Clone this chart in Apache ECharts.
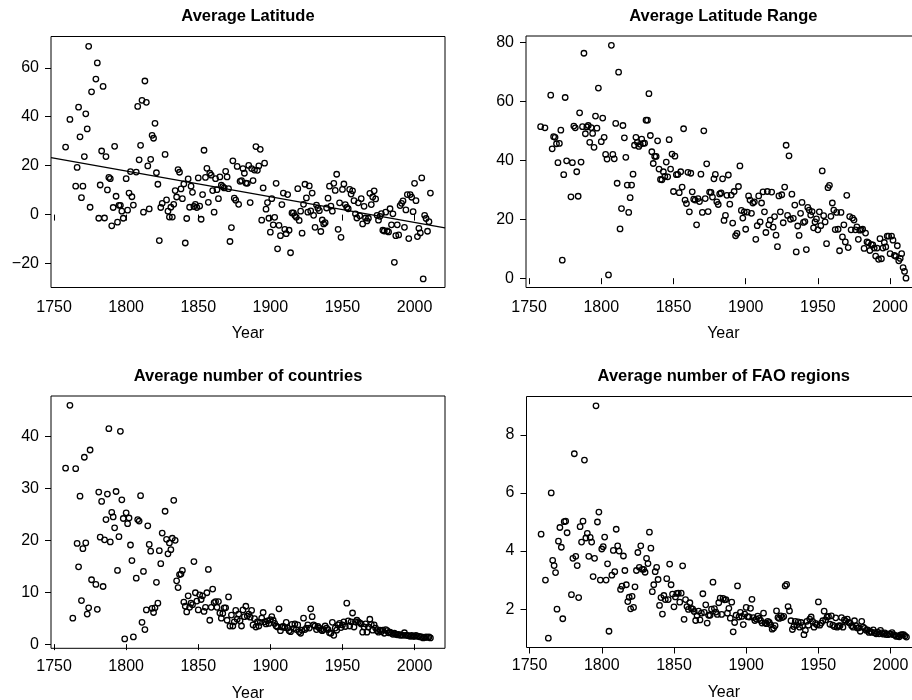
<!DOCTYPE html>
<html>
<head>
<meta charset="utf-8">
<script src="https://cdn.jsdelivr.net/npm/echarts@6/dist/echarts.min.js"></script>
<style>html,body{margin:0;padding:0;background:#fff}#c{width:912px;height:700px}</style>
</head>
<body>
<div id="c"></div>
<script>
const titles = ['Average Latitude', 'Average Latitude Range', 'Average number of countries', 'Average number of FAO regions'];
const xTicks = [1750, 1800, 1850, 1900, 1950, 2000];
const yTicksLat = [-20, 0, 20, 40, 60];
const yTicksRange = [0, 20, 40, 60, 80];
const yTicksCountries = [0, 10, 20, 30, 40];
const yTicksFao = [2, 4, 6, 8];
// linear fit shown on the latitude panel: value = trendAt1750 + trendSlope * (year - 1750)
const trendAt1750 = 23.08;
const trendSlope = -0.105;

const latitude = [[1758,27.6],[1761,38.9],[1765,11.6],[1766,19.3],[1767,43.9],[1768,31.8],[1769,6.9],[1770,11.6],[1771,23.7],[1772,41.2],[1773,35.0],[1774,68.8],[1775,3.0],[1776,50.2],[1779,55.4],[1780,62.0],[1781,-1.5],[1782,12.1],[1783,26.0],[1784,52.4],[1785,-1.4],[1786,23.7],[1787,10.1],[1788,15.2],[1789,14.7],[1790,-4.6],[1791,2.9],[1792,27.9],[1793,7.5],[1794,-3.1],[1795,3.8],[1796,3.8],[1797,1.4],[1798,-1.5],[1800,14.7],[1801,1.8],[1802,8.8],[1803,17.6],[1804,7.3],[1805,3.9],[1807,17.4],[1808,44.2],[1809,22.4],[1810,28.3],[1811,46.7],[1812,1.0],[1813,54.6],[1814,45.9],[1815,19.9],[1816,2.3],[1817,22.6],[1818,32.4],[1819,31.2],[1820,37.3],[1821,17.1],[1822,12.4],[1823,-10.6],[1824,2.9],[1825,4.6],[1827,24.6],[1828,6.0],[1829,1.4],[1830,-1.0],[1831,3.0],[1832,-1.0],[1833,4.2],[1834,9.8],[1835,7.2],[1836,18.4],[1837,17.3],[1838,10.5],[1839,6.5],[1840,12.5],[1841,-11.6],[1842,-1.6],[1843,14.6],[1844,3.0],[1845,11.6],[1846,9.1],[1847,3.3],[1848,4.2],[1849,2.9],[1850,15.0],[1851,3.5],[1852,-1.9],[1853,8.2],[1854,26.3],[1855,15.2],[1856,18.9],[1857,5.0],[1858,16.9],[1859,16.1],[1860,9.8],[1861,1.0],[1862,14.7],[1863,10.2],[1864,6.5],[1865,15.4],[1866,12.0],[1867,11.4],[1868,10.9],[1869,17.7],[1870,15.4],[1871,10.6],[1872,-11.0],[1873,-5.3],[1874,22.0],[1875,6.7],[1876,5.9],[1877,19.7],[1878,4.2],[1879,13.6],[1880,13.9],[1881,18.8],[1882,16.9],[1883,12.9],[1884,12.8],[1885,20.1],[1886,4.9],[1887,18.8],[1888,13.9],[1889,18.2],[1890,27.8],[1891,18.1],[1892,19.9],[1893,26.7],[1894,-2.3],[1895,10.9],[1896,21.0],[1897,2.2],[1898,4.9],[1899,-1.5],[1900,-7.2],[1901,6.5],[1902,-4.2],[1903,-1.1],[1904,12.8],[1905,-14.0],[1906,-4.4],[1907,-8.6],[1908,4.1],[1909,8.8],[1910,-6.0],[1911,-7.8],[1912,8.2],[1913,-6.4],[1914,-15.6],[1915,0.7],[1916,0.7],[1917,-0.4],[1918,-1.1],[1919,10.6],[1920,-2.4],[1921,1.4],[1922,-7.6],[1923,4.2],[1924,12.4],[1925,6.8],[1926,1.0],[1927,11.7],[1928,1.5],[1929,8.8],[1930,-0.3],[1931,-5.2],[1932,3.9],[1933,2.6],[1934,1.6],[1935,-6.9],[1936,-2.2],[1937,-3.8],[1938,-3.3],[1939,2.7],[1940,6.7],[1941,11.6],[1942,3.5],[1943,1.4],[1944,12.8],[1945,9.9],[1946,16.5],[1947,-6.0],[1948,4.8],[1949,-9.3],[1950,10.3],[1951,12.5],[1952,4.1],[1953,2.9],[1954,2.4],[1955,10.3],[1956,8.4],[1957,9.7],[1958,5.7],[1959,0.3],[1960,-1.4],[1961,4.8],[1962,-0.5],[1963,6.5],[1964,-3.8],[1965,3.4],[1966,-1.4],[1967,-2.6],[1968,-1.5],[1969,8.7],[1970,4.1],[1971,7.2],[1972,9.7],[1973,6.4],[1974,-0.3],[1975,-2.3],[1976,-0.7],[1977,0.4],[1978,-6.4],[1979,-6.7],[1980,1.0],[1981,-6.7],[1982,-7.1],[1983,2.4],[1984,-4.2],[1985,0.3],[1986,-19.5],[1987,-8.6],[1988,-4.2],[1989,-8.3],[1990,3.7],[1991,4.6],[1992,5.6],[1993,-5.2],[1994,1.9],[1995,8.2],[1996,-9.8],[1997,8.2],[1998,7.1],[1999,1.2],[2000,12.8],[2001,5.7],[2002,-9.0],[2003,-5.6],[2004,-7.5],[2005,15.0],[2006,-26.3],[2007,-0.3],[2008,-1.6],[2009,-6.8],[2010,-2.9],[2011,8.8]];

const latitudeRange = [[1758,51.4],[1761,51.0],[1765,62.1],[1766,43.9],[1767,48.0],[1768,47.8],[1769,45.6],[1770,39.2],[1771,45.7],[1772,50.2],[1773,6.1],[1774,35.1],[1775,61.3],[1776,39.8],[1779,27.6],[1780,39.2],[1781,51.6],[1782,51.0],[1783,36.1],[1784,27.8],[1785,56.1],[1786,39.4],[1787,51.4],[1788,76.3],[1789,49.0],[1790,51.3],[1791,51.8],[1792,46.1],[1793,51.1],[1794,49.1],[1795,44.4],[1796,55.0],[1797,50.9],[1798,64.5],[1800,46.3],[1801,54.3],[1802,47.8],[1803,42.0],[1804,40.4],[1805,1.1],[1807,79.0],[1808,42.0],[1809,40.5],[1810,52.5],[1811,32.2],[1812,69.9],[1813,16.7],[1814,23.6],[1815,51.8],[1816,47.6],[1817,41.0],[1818,31.6],[1819,22.3],[1820,27.3],[1821,31.6],[1822,35.3],[1823,45.1],[1824,47.8],[1825,46.1],[1826,44.7],[1827,45.4],[1828,47.2],[1829,45.7],[1830,45.8],[1831,53.6],[1832,53.6],[1833,62.6],[1834,48.4],[1835,42.9],[1836,38.9],[1837,41.3],[1838,41.3],[1839,46.6],[1840,37.0],[1841,33.5],[1842,33.4],[1843,36.1],[1844,34.5],[1845,39.4],[1846,34.4],[1847,47.0],[1848,37.0],[1849,42.1],[1850,29.4],[1851,41.4],[1852,35.1],[1853,35.2],[1854,29.0],[1855,36.1],[1856,30.9],[1857,50.7],[1858,26.5],[1859,25.3],[1860,35.9],[1861,22.5],[1862,35.6],[1863,29.3],[1864,26.8],[1865,26.5],[1866,18.1],[1867,27.0],[1868,26.0],[1869,35.3],[1870,22.3],[1871,50.0],[1872,27.0],[1873,38.8],[1874,22.6],[1875,29.2],[1876,29.1],[1877,27.5],[1878,33.7],[1879,35.2],[1880,25.9],[1881,25.0],[1882,28.6],[1883,28.9],[1884,33.7],[1885,19.6],[1886,21.3],[1887,28.1],[1888,35.0],[1889,25.1],[1890,28.2],[1891,18.7],[1892,29.4],[1893,14.4],[1894,15.2],[1895,31.1],[1896,38.1],[1897,23.0],[1898,20.4],[1899,22.5],[1900,16.6],[1901,22.4],[1902,27.9],[1903,26.5],[1904,22.0],[1905,25.5],[1906,25.9],[1907,13.2],[1908,17.8],[1909,27.9],[1910,19.1],[1911,25.5],[1912,29.3],[1913,22.5],[1914,15.5],[1915,29.4],[1916,18.1],[1917,19.7],[1918,29.2],[1919,17.3],[1920,20.9],[1921,14.6],[1922,10.7],[1923,27.9],[1924,22.5],[1925,28.3],[1926,18.8],[1927,30.9],[1928,45.1],[1929,21.3],[1930,41.5],[1931,20.0],[1932,28.5],[1933,20.3],[1934,24.8],[1935,8.9],[1936,17.7],[1937,14.5],[1938,22.0],[1939,25.7],[1940,18.9],[1941,19.2],[1942,9.7],[1943,24.0],[1944,23.1],[1945,21.4],[1946,22.6],[1947,17.1],[1948,19.1],[1949,20.1],[1950,16.4],[1951,22.5],[1952,17.8],[1953,36.4],[1954,21.2],[1955,19.1],[1956,11.7],[1957,30.7],[1958,31.5],[1959,21.0],[1960,25.5],[1961,23.1],[1962,16.5],[1963,22.3],[1964,16.6],[1965,9.3],[1966,22.3],[1967,14.0],[1968,18.1],[1969,12.3],[1970,28.1],[1971,10.4],[1972,20.9],[1973,16.4],[1974,20.4],[1975,19.7],[1976,16.4],[1977,17.4],[1978,13.2],[1979,16.3],[1980,16.4],[1981,16.6],[1982,10.1],[1983,15.3],[1984,12.3],[1985,12.0],[1986,9.4],[1987,11.4],[1988,11.3],[1989,10.2],[1990,7.5],[1991,10.2],[1992,6.4],[1993,13.4],[1994,6.6],[1995,10.2],[1996,12.1],[1997,10.6],[1998,14.3],[1999,14.3],[2000,8.3],[2001,14.3],[2002,12.9],[2003,7.7],[2004,7.4],[2005,11.0],[2006,5.9],[2007,6.7],[2008,8.3],[2009,3.6],[2010,2.3],[2011,0.0]];

const countries = [[1758,33.9],[1761,46.0],[1763,5.0],[1765,33.8],[1766,19.4],[1767,14.9],[1768,28.5],[1769,8.4],[1770,18.4],[1771,36.0],[1772,19.5],[1773,5.8],[1774,7.0],[1775,37.4],[1776,12.4],[1779,11.5],[1780,6.7],[1781,29.3],[1782,20.6],[1783,27.5],[1784,11.1],[1785,20.1],[1786,24.0],[1787,28.9],[1788,41.5],[1789,19.7],[1790,25.4],[1791,24.5],[1792,22.4],[1793,29.4],[1794,14.2],[1795,20.7],[1796,41.0],[1797,27.8],[1798,24.2],[1799,1.0],[1800,25.3],[1801,23.2],[1802,24.3],[1803,19.1],[1804,16.1],[1805,1.4],[1807,12.7],[1808,24.0],[1809,23.7],[1810,28.6],[1811,4.2],[1812,14.0],[1813,2.8],[1814,6.6],[1815,22.8],[1816,19.2],[1817,17.9],[1818,6.9],[1819,6.1],[1820,7.0],[1821,11.9],[1822,7.9],[1823,18.0],[1824,15.5],[1825,21.4],[1827,25.6],[1828,20.2],[1829,17.4],[1830,19.5],[1831,18.2],[1832,20.4],[1833,27.7],[1834,20.0],[1835,12.2],[1836,10.9],[1837,13.4],[1838,13.5],[1839,14.2],[1840,8.1],[1841,7.3],[1842,6.2],[1843,9.3],[1844,7.1],[1845,7.9],[1846,7.6],[1847,15.9],[1848,9.9],[1849,8.3],[1850,6.6],[1851,9.5],[1852,8.6],[1853,9.3],[1854,6.3],[1855,7.1],[1856,9.9],[1857,14.4],[1858,4.6],[1859,7.1],[1860,10.6],[1861,8.0],[1862,8.2],[1863,7.1],[1864,8.2],[1865,6.0],[1866,5.0],[1867,5.9],[1868,7.0],[1869,7.0],[1870,4.6],[1871,9.1],[1872,3.5],[1873,5.6],[1874,3.5],[1875,4.3],[1876,6.5],[1877,4.8],[1878,5.8],[1879,4.5],[1880,3.5],[1881,6.6],[1882,5.3],[1883,7.3],[1884,5.4],[1885,5.8],[1886,5.2],[1887,6.5],[1888,3.7],[1889,4.9],[1890,3.3],[1891,4.3],[1892,3.5],[1893,4.2],[1894,5.0],[1895,6.1],[1896,4.3],[1897,3.9],[1898,4.5],[1899,4.0],[1900,4.7],[1901,5.3],[1902,4.6],[1903,4.0],[1904,3.5],[1905,3.3],[1906,6.8],[1907,2.6],[1908,3.3],[1909,3.4],[1910,3.2],[1911,4.2],[1912,3.1],[1913,2.6],[1914,2.4],[1915,3.8],[1916,3.0],[1917,3.9],[1918,2.8],[1919,3.7],[1920,2.4],[1921,2.1],[1922,2.7],[1923,5.0],[1924,2.8],[1925,3.1],[1926,3.7],[1927,3.1],[1928,6.8],[1929,5.3],[1930,3.7],[1931,3.5],[1932,2.8],[1933,3.4],[1934,3.1],[1935,2.8],[1936,2.6],[1937,2.8],[1938,3.5],[1939,3.1],[1940,2.8],[1941,2.2],[1942,2.1],[1943,4.2],[1944,1.7],[1945,3.1],[1946,2.7],[1947,3.7],[1948,4.0],[1949,3.2],[1950,3.7],[1951,4.3],[1952,3.4],[1953,7.9],[1954,4.5],[1955,3.5],[1956,4.3],[1957,6.0],[1958,3.3],[1959,4.3],[1960,4.6],[1961,4.3],[1962,4.1],[1963,3.9],[1964,2.3],[1965,3.3],[1966,3.9],[1967,2.3],[1968,3.3],[1969,4.8],[1970,3.8],[1971,2.7],[1972,3.7],[1973,3.1],[1974,2.6],[1975,2.3],[1976,2.7],[1977,2.4],[1978,2.7],[1979,2.1],[1980,2.8],[1981,2.6],[1982,2.2],[1983,2.3],[1984,2.1],[1985,1.9],[1986,2.1],[1987,1.9],[1988,1.8],[1989,1.9],[1990,1.7],[1991,1.8],[1992,1.7],[1993,2.2],[1994,1.7],[1995,1.7],[1996,1.6],[1997,1.5],[1998,1.7],[1999,1.5],[2000,1.5],[2001,1.7],[2002,1.5],[2003,1.5],[2004,1.4],[2005,1.4],[2006,1.2],[2007,1.3],[2008,1.4],[2009,1.3],[2010,1.4],[2011,1.2]];

const faoRegions = [[1758,4.58],[1761,3.0],[1763,1.0],[1765,6.0],[1766,3.68],[1767,3.5],[1768,3.26],[1769,2.0],[1770,4.34],[1771,4.81],[1772,4.13],[1773,1.67],[1774,5.01],[1775,5.03],[1776,4.63],[1779,2.5],[1780,3.75],[1781,7.35],[1782,3.82],[1783,3.5],[1784,2.4],[1785,4.84],[1786,4.31],[1787,5.03],[1788,7.13],[1789,4.45],[1790,4.61],[1791,3.82],[1792,4.47],[1793,4.31],[1794,3.12],[1795,3.75],[1796,9.0],[1797,5.0],[1798,5.34],[1799,3.0],[1800,4.07],[1801,4.15],[1802,4.48],[1803,3.0],[1804,3.56],[1805,1.24],[1807,3.17],[1808,4.02],[1809,3.29],[1810,4.75],[1811,4.18],[1812,4.0],[1813,2.68],[1814,2.79],[1815,3.83],[1816,3.33],[1817,2.84],[1818,2.26],[1819,2.41],[1820,2.01],[1821,2.44],[1822,2.06],[1823,2.77],[1824,3.33],[1825,3.95],[1826,3.44],[1827,4.18],[1828,3.37],[1829,3.37],[1830,3.27],[1831,3.75],[1832,3.57],[1833,4.65],[1834,4.1],[1835,2.6],[1836,2.84],[1837,3.29],[1838,3.44],[1839,3.02],[1840,2.13],[1841,2.4],[1842,1.83],[1843,2.47],[1844,2.33],[1845,3.05],[1846,2.33],[1847,3.55],[1848,2.84],[1849,2.52],[1850,2.08],[1851,2.42],[1852,2.54],[1853,2.55],[1854,2.24],[1855,2.55],[1856,3.49],[1857,1.65],[1858,2.33],[1859,2.09],[1860,1.99],[1861,2.22],[1862,2.03],[1863,2.0],[1864,1.92],[1865,1.61],[1866,1.78],[1867,1.93],[1868,1.63],[1869,1.86],[1870,2.53],[1871,1.89],[1872,2.15],[1873,1.52],[1874,1.79],[1875,1.79],[1876,2.0],[1877,2.93],[1878,2.02],[1879,1.9],[1880,1.82],[1881,2.22],[1882,2.38],[1883,1.82],[1884,2.37],[1885,2.32],[1886,2.33],[1887,1.86],[1888,2.03],[1889,1.69],[1890,2.24],[1891,1.22],[1892,1.54],[1893,1.79],[1894,2.8],[1895,1.73],[1896,1.89],[1897,1.75],[1898,1.47],[1899,1.83],[1900,2.06],[1901,1.74],[1902,1.73],[1903,2.03],[1904,2.34],[1905,1.71],[1906,1.61],[1907,1.66],[1908,1.76],[1909,1.68],[1910,1.61],[1911,1.52],[1912,1.86],[1913,1.53],[1914,1.5],[1915,1.58],[1916,1.54],[1917,1.46],[1918,1.31],[1919,1.35],[1920,1.43],[1921,1.94],[1922,1.71],[1923,1.68],[1924,1.77],[1925,1.71],[1926,1.75],[1927,2.8],[1928,2.85],[1929,2.09],[1930,1.94],[1931,1.6],[1932,1.3],[1933,1.4],[1934,1.58],[1935,1.46],[1936,1.56],[1937,1.38],[1938,1.54],[1939,1.43],[1940,1.12],[1941,1.27],[1942,1.58],[1943,1.45],[1944,1.66],[1945,1.73],[1946,1.58],[1947,1.38],[1948,1.51],[1949,1.46],[1950,2.25],[1951,1.45],[1952,1.52],[1953,1.6],[1954,1.93],[1955,1.63],[1956,1.73],[1957,1.75],[1958,1.48],[1959,1.77],[1960,1.45],[1961,1.4],[1962,1.7],[1963,1.38],[1964,1.42],[1965,1.43],[1966,1.71],[1967,1.38],[1968,1.63],[1969,1.58],[1970,1.66],[1971,1.54],[1972,1.52],[1973,1.43],[1974,1.38],[1975,1.6],[1976,1.43],[1977,1.35],[1978,1.36],[1979,1.24],[1980,1.58],[1981,1.38],[1982,1.34],[1983,1.27],[1984,1.29],[1985,1.2],[1986,1.23],[1987,1.2],[1988,1.29],[1989,1.19],[1990,1.15],[1991,1.21],[1992,1.15],[1993,1.27],[1994,1.18],[1995,1.14],[1996,1.18],[1997,1.13],[1998,1.12],[1999,1.15],[2000,1.14],[2001,1.19],[2002,1.12],[2003,1.1],[2004,1.06],[2005,1.08],[2006,1.05],[2007,1.11],[2008,1.12],[2009,1.12],[2010,1.08],[2011,1.04]];

const FONT = "'Liberation Sans', Arial, Helvetica, sans-serif";
const X_MIN = 1747.88, X_MAX = 2021.12;

const panels = [
  { data: latitude, yTicks: yTicksLat, yMin: -29.8, yMax: 72.8,
    grid: { left: 51, top: 36.5, width: 394, height: 251 }, labelMargin: 12, nameGap: 38, titleY: 16 },
  { data: latitudeRange, yTicks: yTicksRange, yMin: -3.16, yMax: 82.16,
    grid: { left: 526, top: 36, width: 394.6, height: 251.5 }, labelMargin: 12, nameGap: 38, titleY: 16 },
  { data: countries, yTicks: yTicksCountries, yMin: -0.8, yMax: 47.8,
    grid: { left: 51, top: 396, width: 394, height: 252.3 }, labelMargin: 10, nameGap: 37, titleY: 376 },
  { data: faoRegions, yTicks: yTicksFao, yMin: 0.68, yMax: 9.32,
    grid: { left: 526.5, top: 396.5, width: 394.6, height: 251 }, labelMargin: 10, nameGap: 37, titleY: 376 }
];

const fmtY = v => (v < 0 ? '\u2212' + Math.abs(v) : String(v));
const fmtX = v => String(v);

const option = { animation: false, backgroundColor: '#fff', grid: [], xAxis: [], yAxis: [], series: [], graphic: [] };

panels.forEach((p, i) => {
  option.grid.push(Object.assign({ show: true, borderColor: '#000', borderWidth: 1, backgroundColor: 'transparent', containLabel: false, outerBoundsMode: 'none' }, p.grid));
  option.xAxis.push({
    gridIndex: i, type: 'value', min: X_MIN, max: X_MAX,
    axisLine: { show: false }, splitLine: { show: false },
    axisTick: { show: true, inside: false, length: 6, customValues: xTicks, lineStyle: { color: '#000', width: 1 } },
    axisLabel: { customValues: xTicks, margin: p.labelMargin, fontSize: 16, color: '#000', fontFamily: FONT, formatter: fmtX },
    name: 'Year', nameLocation: 'middle', nameGap: p.nameGap,
    nameTextStyle: { fontSize: 16, color: '#000', fontFamily: FONT }
  });
  option.yAxis.push({
    gridIndex: i, type: 'value', min: p.yMin, max: p.yMax,
    axisLine: { show: false }, splitLine: { show: false },
    axisTick: { show: true, inside: false, length: 6, customValues: p.yTicks, lineStyle: { color: '#000', width: 1 } },
    axisLabel: { customValues: p.yTicks, margin: 12, fontSize: 16, color: '#000', fontFamily: FONT, formatter: fmtY }
  });
  option.series.push({
    type: 'scatter', xAxisIndex: i, yAxisIndex: i, data: p.data,
    symbol: 'circle', symbolSize: 5.5,
    itemStyle: { color: 'rgba(255,255,255,0)', borderColor: '#000', borderWidth: 1.3, opacity: 1 },
    emphasis: { disabled: true }, silent: true
  });
  const cx = p.grid.left + p.grid.width / 2;
  option.graphic.push({
    type: 'text', x: cx, y: p.titleY, silent: true,
    style: { text: titles[i], font: 'bold 16.5px ' + FONT, fill: '#000', align: 'center', verticalAlign: 'middle' }
  });
});

option.series.push({
  type: 'line', xAxisIndex: 0, yAxisIndex: 0, symbol: 'none', silent: true,
  data: [X_MIN, X_MAX].map(x => [x, trendAt1750 + trendSlope * (x - 1750)]),
  lineStyle: { color: '#000', width: 1.3 }
});

const chart = echarts.init(document.getElementById('c'), null, { renderer: 'canvas' });
chart.setOption(option);
</script>
</body>
</html>
